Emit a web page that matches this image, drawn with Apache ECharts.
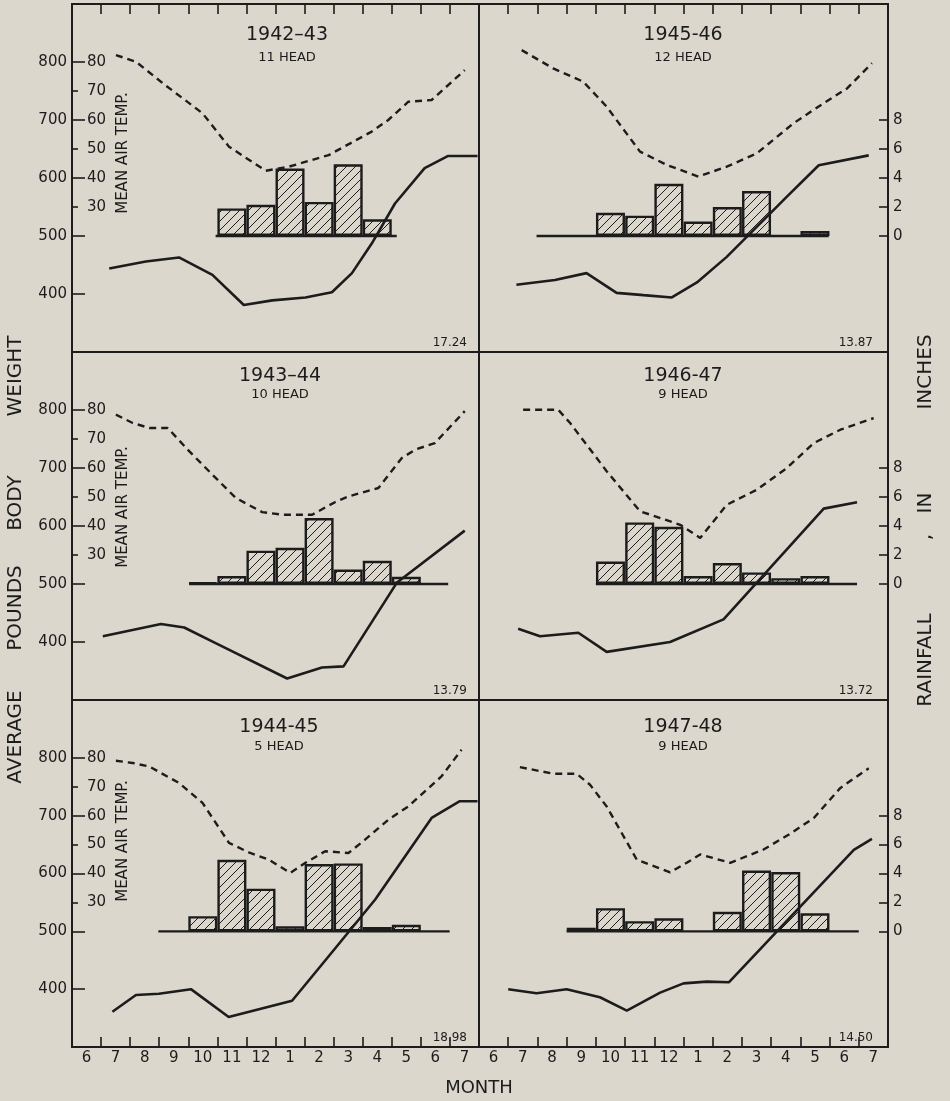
<!DOCTYPE html>
<html>
<head>
<meta charset="utf-8">
<script src="https://cdn.jsdelivr.net/npm/echarts@6/dist/echarts.min.js"></script>
<style>
html, body { margin: 0; padding: 0; background: #dbd7cd; }
#main { width: 950px; height: 1101px; }
</style>
</head>
<body>
<div id="main"></div>
<script>
// month axis: 0 = start of June ... 14 = end of July next year
var months = ['6','7','8','9','10','11','12','1','2','3','4','5','6','7'];
var weightTicks = [400, 500, 600, 700, 800];
var tempTicks = [30, 40, 50, 60, 70, 80];
var rainTicks = [0, 2, 4, 6, 8];

// ---- 1942-43 ----
var weight4243 = [[1.28,444],[2.54,456],[3.68,463],[4.83,433],[5.91,381],[6.89,389],[8.03,394],[8.94,403],[9.63,436],[10.31,487],[11.11,556],[12.13,617],[12.94,638],[13.95,638]];
var temp4243 = [[1.51,82.4],[2.2,80.1],[3.12,72.7],[4.49,62.3],[5.4,50.8],[6.66,42.5],[7.46,43.9],[8.83,47.9],[10.31,56],[10.88,60],[11.57,66.3],[12.37,66.9],[13.51,77.2]];
var rain4243 = [0,0,0,0,0,1.9,2.15,4.65,2.35,4.95,1.15,0,0,0];
var base4243 = [4.94, 11.17];

// ---- 1945-46 ----
var weight4546 = [[1.28,416],[2.6,424],[3.68,436],[4.71,402],[5.63,398],[6.6,394],[7.46,420],[8.48,464],[10.54,568],[11.63,622],[13.34,639]];
var temp4546 = [[1.46,84.1],[2.54,77.8],[3.57,73.2],[4.37,64.6],[5.51,49.1],[6.43,44.5],[7.51,40.5],[8.48,43.9],[9.51,48.5],[10.77,58.9],[11.8,65.8],[12.6,70.9],[13.45,79.6]];
var rain4546 = [0,0,0,0,1.6,1.4,3.6,1.0,2.0,3.1,0,0.35,0,0];
var base4546 = [1.97, 11.97];

// ---- 1943-44 ----
var weight4344 = [[1.06,410],[3.06,431],[3.86,425],[4.94,398],[7.4,337],[8.6,356],[9.34,358],[11.17,502],[13.51,592]];
var temp4344 = [[1.51,78.4],[2.09,75.5],[2.66,73.8],[3.29,73.8],[4.03,65.8],[4.83,57.7],[5.63,49.7],[6.54,44.8],[7.23,43.9],[8.26,43.9],[9.06,48.3],[9.51,50.2],[10.54,53.1],[11.34,63.4],[11.8,66.3],[12.48,68.6],[13.51,79.6]];
var rain4344 = [0,0,0,0,0.1,0.55,2.3,2.5,4.55,1.0,1.6,0.5,0,0];
var base4344 = [4.03, 12.94];

// ---- 1946-47 ----
var weight4647 = [[1.34,423],[2.09,410],[3.4,416],[4.37,383],[6.54,400],[8.37,439],[11.8,630],[12.94,641]];
var temp4647 = [[1.51,80.1],[2.71,80.1],[3.12,75.5],[4.37,58.9],[5.51,45.1],[6.89,40.4],[7.57,35.9],[8.03,41.6],[8.48,47.3],[9.51,52.5],[10.54,60],[11.46,68.6],[12.37,73.2],[13.51,77.2]];
var rain4647 = [0,0,0,0,1.55,4.25,3.95,0.55,1.45,0.8,0.4,0.55,0,0];
var base4647 = [4.0, 12.94];

// ---- 1944-45 ----
var weight4445 = [[1.39,361],[2.2,390],[2.99,392],[4.09,400],[5.39,352],[7.57,380],[8.83,457],[10.43,555],[12.37,696],[13.34,725],[13.95,725]];
var temp4445 = [[1.51,79],[2.09,78.2],[2.66,77],[3.68,71.3],[4.49,64.4],[5.4,50.6],[6.08,47.3],[6.77,44.8],[7.51,40.2],[8.03,43.7],[8.71,47.7],[9.51,47.1],[10.08,51.7],[10.88,58.6],[11.57,63.2],[12.71,73.6],[13.4,82.8]];
var rain4445 = [0,0,0,0,1.05,4.95,2.95,0.35,4.65,4.7,0.3,0.45,0,0];
var base4445 = [2.97, 12.99];

// ---- 1947-48 ----
var weight4748 = [[1.0,400],[1.97,393],[3.0,400],[4.14,386],[5.06,363],[6.2,394],[7.0,410],[7.8,413],[8.56,412],[12.83,641],[13.45,660]];
var temp4748 = [[1.4,76.8],[2.54,74.5],[3.34,74.5],[3.8,70.7],[4.37,63.2],[5.4,44.8],[6.54,40.4],[7.11,43.7],[7.57,46.6],[8.6,43.7],[9.74,48.3],[10.66,53.8],[11.46,59.2],[12.37,69.6],[13.34,76.4]];
var rain4748 = [0,0,0,0.25,1.6,0.7,0.9,0,1.35,4.2,4.1,1.25,0,0];
var base4748 = [3.0, 13.0];

var titles = ['1942\u201343', '1945-46', '1943\u201344', '1946-47', '1944-45', '1947-48'];
var heads = ['11 HEAD', '12 HEAD', '10 HEAD', '9 HEAD', '5 HEAD', '9 HEAD'];
var totals = ['17.24', '13.87', '13.79', '13.72', '18.98', '14.50'];

var panels = [
  [weight4243, temp4243, rain4243, base4243],
  [weight4546, temp4546, rain4546, base4546],
  [weight4344, temp4344, rain4344, base4344],
  [weight4647, temp4647, rain4647, base4647],
  [weight4445, temp4445, rain4445, base4445],
  [weight4748, temp4748, rain4748, base4748]
];

var paper = '#dbd7cd';
var ink = '#1c1c1c';
var fam = '"DejaVu Sans", sans-serif';

// layout of the grid of panels
var colLeft = [72, 479], colWidth = [407, 409];
var rowTop = [4, 352, 700], rowHeight = [348, 348, 347];
var titleX = [[287, 683], [280, 683], [279, 683]];
var titleY = [35, 376, 727];
var headY = [58, 395, 747];
var tempNameY = [153, 507, 841];
var totalX = [467, 873];

function hatch() {
  var c = document.createElement('canvas');
  c.width = 9; c.height = 9;
  var g = c.getContext('2d');
  g.fillStyle = paper;
  g.fillRect(0, 0, 9, 9);
  g.strokeStyle = ink;
  g.lineWidth = 1;
  g.beginPath();
  g.moveTo(0, 9); g.lineTo(9, 0);
  g.moveTo(-1, 1); g.lineTo(1, -1);
  g.moveTo(8, 10); g.lineTo(10, 8);
  g.stroke();
  return c;
}
var pattern = { image: hatch(), repeat: 'repeat' };

var xTicks = [], xLabels = [];
for (var i = 1; i < 14; i++) xTicks.push(i);
for (var i = 0; i < 14; i++) xLabels.push(i + 0.5);

var grids = [], xAxes = [], yAxes = [], series = [], graphics = [];

panels.forEach(function (pd, p) {
  var row = Math.floor(p / 2), col = p % 2;
  grids.push({
    left: colLeft[col], top: rowTop[row], width: colWidth[col], height: rowHeight[row],
    show: true, borderColor: ink, borderWidth: 2, backgroundColor: 'transparent',
    containLabel: false, outerBoundsMode: 'none'
  });
  xAxes.push({
    gridIndex: p, type: 'value', min: 0, max: 14,
    position: row === 2 ? 'bottom' : 'top', show: row !== 1,
    axisLine: { show: false, onZero: false }, splitLine: { show: false },
    axisTick: { show: true, inside: true, length: 10, customValues: xTicks, lineStyle: { color: ink, width: 1.6 } },
    axisLabel: {
      show: row === 2, customValues: xLabels, margin: 4, color: ink, fontSize: 15, fontFamily: fam,
      formatter: function (v) { return months[Math.floor(v)]; }
    }
  });
  // pounds
  yAxes.push({
    gridIndex: p, type: 'value', min: 300, max: 900, position: 'left', show: col === 0,
    axisLine: { show: false, onZero: false }, splitLine: { show: false },
    axisTick: { inside: true, length: 13, customValues: weightTicks, lineStyle: { color: ink, width: 1.6 } },
    axisLabel: { customValues: weightTicks, margin: 5, color: ink, fontSize: 15, fontFamily: fam }
  });
  // mean air temp
  yAxes.push({
    gridIndex: p, type: 'value', min: -20, max: 100, position: 'left', show: col === 0,
    axisLine: { show: false, onZero: false }, splitLine: { show: false },
    axisTick: { inside: true, length: 6, customValues: [30, 50, 70], lineStyle: { color: ink, width: 1.6 } },
    axisLabel: { inside: true, customValues: tempTicks, margin: 15, color: ink, fontSize: 15, fontFamily: fam }
  });
  // rainfall
  yAxes.push({
    gridIndex: p, type: 'value', min: -8, max: 16, position: 'right', show: col === 1,
    axisLine: { show: false, onZero: false }, splitLine: { show: false },
    axisTick: { inside: true, length: 9, customValues: rainTicks, lineStyle: { color: ink, width: 1.6 } },
    axisLabel: { customValues: rainTicks, margin: 5, color: ink, fontSize: 15, fontFamily: fam }
  });

  var bars = [];
  pd[2].forEach(function (v, k) { if (v > 0) bars.push([k + 0.5, v]); });

  series.push({
    type: 'bar', xAxisIndex: p, yAxisIndex: 3 * p + 2, data: bars, barWidth: 29, z: 2,
    itemStyle: { color: pattern, borderColor: ink, borderWidth: 2.4 }
  });
  series.push({
    type: 'line', xAxisIndex: p, yAxisIndex: 3 * p + 2, z: 3, symbol: 'none',
    data: [[pd[3][0], 0], [pd[3][1], 0]],
    lineStyle: { color: ink, width: 2.4 }
  });
  series.push({
    type: 'line', xAxisIndex: p, yAxisIndex: 3 * p + 1, z: 4, symbol: 'none',
    data: pd[1], lineStyle: { color: ink, width: 2.4, type: [7, 5] }
  });
  series.push({
    type: 'line', xAxisIndex: p, yAxisIndex: 3 * p, z: 5, symbol: 'none',
    data: pd[0], lineStyle: { color: ink, width: 2.6 }
  });

  graphics.push({
    type: 'text', x: titleX[row][col], y: titleY[row],
    style: { text: titles[p], fill: ink, font: '19px ' + fam, textAlign: 'center', textVerticalAlign: 'middle' }
  });
  graphics.push({
    type: 'text', x: titleX[row][col], y: headY[row],
    style: { text: heads[p], fill: ink, font: '13px ' + fam, textAlign: 'center', textVerticalAlign: 'middle' }
  });
  graphics.push({
    type: 'text', x: totalX[col], y: rowTop[row] + rowHeight[row] - 9,
    style: { text: totals[p], fill: ink, font: '12px ' + fam, textAlign: 'right', textVerticalAlign: 'middle' }
  });
  if (col === 0) {
    graphics.push({
      type: 'text', x: 123, y: tempNameY[row], rotation: Math.PI / 2,
      style: { text: 'MEAN AIR TEMP.', fill: ink, font: '15px ' + fam, textAlign: 'center', textVerticalAlign: 'middle' }
    });
  }
});

// outer axis titles
var leftWords = [['AVERAGE', 737], ['POUNDS', 608], ['BODY', 503], ['WEIGHT', 376]];
var rightWords = [['RAINFALL', 660], [',', 537], ['IN', 503], ['INCHES', 372]];
leftWords.forEach(function (w) {
  graphics.push({ type: 'text', x: 16, y: w[1], rotation: Math.PI / 2,
    style: { text: w[0], fill: ink, font: '20px ' + fam, textAlign: 'center', textVerticalAlign: 'middle' } });
});
rightWords.forEach(function (w) {
  graphics.push({ type: 'text', x: 926, y: w[1], rotation: Math.PI / 2,
    style: { text: w[0], fill: ink, font: '20px ' + fam, textAlign: 'center', textVerticalAlign: 'middle' } });
});
graphics.push({ type: 'text', x: 479, y: 1088,
  style: { text: 'MONTH', fill: ink, font: '18px ' + fam, textAlign: 'center', textVerticalAlign: 'middle' } });

var myChart = echarts.init(document.getElementById('main'));
myChart.setOption({
  backgroundColor: paper,
  animation: false,
  grid: grids,
  xAxis: xAxes,
  yAxis: yAxes,
  series: series,
  graphic: graphics
});
</script>
</body>
</html>
